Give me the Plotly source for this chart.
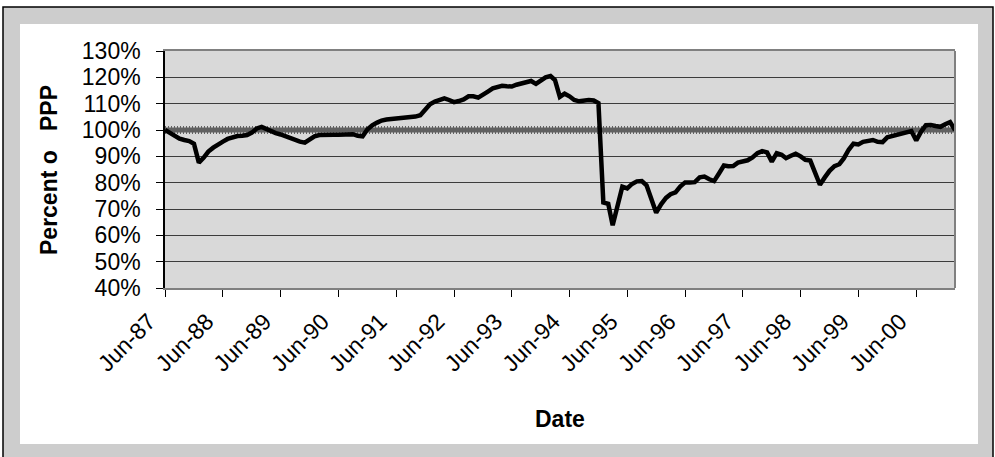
import pandas as pd
import plotly.graph_objects as go

# Monthly real exchange rate as a percent of PPP, Jun-1987 onward
start_month = "1987-06-01"
pct_of_ppp = [
    100.0, 99.0, 97.8, 96.7, 96.2, 95.8, 94.8, 87.6, 89.5, 91.8, 93.3, 94.6,
    95.6, 96.6, 97.3, 97.7, 97.8, 98.1, 99.0, 100.6, 101.2, 100.3, 99.3, 98.8,
    98.3, 97.6, 96.8, 96.0, 95.6, 95.2, 96.2, 97.6, 98.1, 98.0, 98.1, 98.2,
    98.2, 98.4, 98.5, 98.4, 97.8, 97.6, 100.2, 101.8, 102.8, 103.6, 104.0, 104.2,
    104.3, 104.5, 104.6, 104.6, 105.1, 105.6, 108.0, 109.8, 110.8, 111.5, 112.0, 111.4,
    110.6, 111.0, 111.6, 112.8, 112.8, 112.3, 113.2, 114.6, 115.8, 116.2, 116.8, 116.6,
    116.5, 117.2, 117.8, 118.2, 118.6, 117.5, 118.8, 120.0, 120.5, 119.0, 112.6, 113.8,
    112.8, 111.4, 110.9, 111.3, 111.4, 111.2, 110.2, 72.5, 72.0, 63.8, 71.5, 78.5,
    77.8, 79.5, 80.5, 80.6, 79.0, 73.5, 68.6, 71.8, 74.2, 75.6, 76.3, 78.5,
    80.1, 80.1, 80.2, 82.0, 82.3, 81.3, 80.6, 83.5, 86.5, 86.2, 86.3, 87.6,
    88.2, 88.5, 89.6, 91.2, 92.0, 91.5, 88.0, 91.2, 90.6, 89.3, 90.2, 91.0,
    90.0, 88.7, 88.4, 84.0, 79.2, 82.0, 84.5, 86.3, 87.0, 89.2, 92.5, 94.8,
    94.5, 95.5, 96.0, 96.2, 95.5, 95.4, 97.2, 97.7, 98.3, 98.7, 99.2, 99.6,
    96.0, 99.3, 101.8, 101.9, 101.5, 101.2, 102.2, 103.0, 100.0,
]
parity_level = 100.0
y_ticks = [40, 50, 60, 70, 80, 90, 100, 110, 120, 130]

dates = pd.date_range(start_month, periods=len(pct_of_ppp), freq="MS")

W, H = 995, 457
L, R, T, B = 165, 955, 51, 288  # plot area edges in pixels


def px_x(p):
    return (p - L) / (R - L)


def px_y(p):
    return (B - p) / (B - T)


FONT = "Liberation Sans, Arial, sans-serif"
GRAY_LINE = "#606060"

fig = go.Figure()

# parity reference line (thick grey, serrated edge)
fig.add_trace(go.Scatter(
    x=dates, y=[parity_level] * len(dates), mode="lines",
    line=dict(color=GRAY_LINE, width=5), hoverinfo="skip", showlegend=False,
))
fig.add_trace(go.Scatter(
    x=dates, y=[parity_level] * len(dates), mode="lines",
    line=dict(color=GRAY_LINE, width=8, dash="1px,2px"), hoverinfo="skip", showlegend=False,
))
# percent of PPP series
fig.add_trace(go.Scatter(
    x=dates, y=pct_of_ppp, mode="lines",
    line=dict(color="#000000", width=4.5), showlegend=False,
))

shapes = [
    # outer grey frame
    dict(type="rect", xref="paper", yref="paper", layer="below",
         x0=px_x(3), x1=px_x(993), y0=px_y(462), y1=px_y(7),
         fillcolor="#cdcdcd", line=dict(color="#000000", width=1.5)),
    # white chart area
    dict(type="rect", xref="paper", yref="paper", layer="below",
         x0=px_x(20), x1=px_x(978), y0=px_y(444), y1=px_y(24),
         fillcolor="#ffffff", line=dict(width=0)),
    # plot area fill
    dict(type="rect", xref="paper", yref="paper", layer="below",
         x0=0, x1=1, y0=0, y1=1,
         fillcolor="#d9d9d9", line=dict(width=0)),
    # right border of plot area
    dict(type="line", xref="paper", yref="paper", layer="above",
         x0=1, x1=1, y0=0, y1=1, line=dict(color="#808080", width=2)),
]

annotations = [
    dict(text="<b>Date</b>", xref="paper", yref="paper",
         x=px_x(560), y=px_y(419), xanchor="center", yanchor="middle",
         showarrow=False, font=dict(family=FONT, size=23, color="#000000")),
    dict(text="<b>Percent o\u00a0\u00a0\u00a0PPP</b>", xref="paper", yref="paper",
         x=px_x(49), y=px_y(170), xanchor="center", yanchor="middle", textangle=-90,
         showarrow=False, font=dict(family=FONT, size=23, color="#000000")),
]

fig.update_layout(
    width=W, height=H,
    margin=dict(l=L, r=W - R, t=T, b=H - B, pad=0),
    paper_bgcolor="#ffffff",
    plot_bgcolor="rgba(0,0,0,0)",
    font=dict(family=FONT, size=23, color="#000000"),
    shapes=shapes,
    annotations=annotations,
    xaxis=dict(
        type="date",
        range=[dates[0], dates[-1]],
        tick0=start_month, dtick="M12", tickformat="%b-%y",
        tickangle=-45,
        ticks="outside", ticklen=7, tickcolor="#000000", tickwidth=1,
        showgrid=False, zeroline=False,
        showline=True, linecolor="#808080", linewidth=2, mirror=True,
        tickfont=dict(family=FONT, size=23),
        ticklabelshift=-16,
        ticklabelstandoff=2,
    ),
    yaxis=dict(
        range=[40, 130],
        tickvals=y_ticks,
        ticktext=[f"{v}%" for v in y_ticks],
        ticks="outside", ticklen=7, tickcolor="#000000", tickwidth=1,
        showgrid=True, gridcolor="#3c3c3c", gridwidth=1,
        zeroline=False,
        showline=True, linecolor="#000000", linewidth=1.5,
        tickfont=dict(family=FONT, size=23),
        ticklabelstandoff=11,
    ),
)

fig.write_html("out.html")
